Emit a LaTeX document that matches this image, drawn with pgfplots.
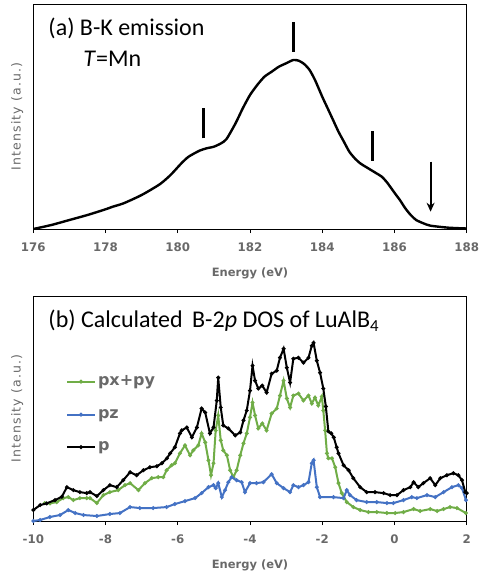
\documentclass[border=0pt]{standalone}
\usepackage{pgfplots}
\pgfplotsset{compat=1.18}
\usepackage{fontspec}
\setmainfont{Carlito}
\newfontfamily\labfont{DejaVu Sans}
\newfontfamily\labspfont[LetterSpace=9]{DejaVu Sans}
\usetikzlibrary{arrows.meta}
\definecolor{textgray}{RGB}{105,105,105}
\definecolor{cgreen}{RGB}{112,173,71}
\definecolor{cblue}{RGB}{68,114,196}
\newcommand{\tfont}{\labfont\fontsize{11.8}{11.8}\selectfont\bfseries}
\pgfplotsset{
  every tick label/.append style={font=\tfont, text=textgray},
  panel/.style={
    scale only axis, width=433.4pt, height=225pt,
    axis line style={line width=0.8pt},
    ytick=\empty,
    xtick pos=bottom, tick align=outside, major tick length=4pt,
    tick style={line width=0.8pt, black},
    xticklabel style={yshift=-6pt},
    clip mode=individual,
  }
}
\newcommand{\panellabels}{%
  \node[rotate=90, font=\labspfont\fontsize{12.5}{12.5}\selectfont, text=textgray, anchor=center] at ([xshift=-16pt]axis description cs:0,0.5) {Intensity (a.u.)};
  \node[font=\labfont\fontsize{11.5}{11.5}\selectfont\bfseries, text=textgray, anchor=center] at ([yshift=-44pt]axis description cs:0.5,0) {Energy (eV)};
}
\begin{document}
\begin{tikzpicture}
\useasboundingbox (-33.3pt,-345pt) rectangle (446.7pt,229pt);
% ---------------- panel (a)
\begin{axis}[panel, at={(0,0)}, anchor=south west,
  xmin=176, xmax=188, ymin=0, ymax=225,
  xtick={176,178,180,182,184,186,188},
  xticklabels={176,178,180,182,184,186,188}]
\addplot[black, line width=2.4pt, smooth, tension=0.4] coordinates {
(176,0)(176.5,4)(177,9)(177.5,14)(178,19.7)(178.2,22.3)(178.5,25.7)(179,34)(179.5,44.7)(179.8,54)(180.1,65.7)(180.3,72.3)(180.6,78.3)(180.8,80.7)(181,82.3)(181.2,85.7)(181.35,90)(181.6,105.7)(181.8,120.7)(182,134)(182.2,144)(182.4,152.3)(182.6,157.3)(182.8,162.3)(183.0,165.7)(183.2,169)(183.35,168.3)(183.5,165)(183.65,159)(183.8,149)(184,132.3)(184.15,120.7)(184.3,109)(184.45,97.3)(184.6,87.3)(184.75,77.3)(184.9,70.7)(185.05,65.7)(185.2,62.3)(185.35,59)(185.5,55.7)(185.65,52.3)(185.8,46.3)(186,36.3)(186.15,29)(186.3,20.7)(186.45,14)(186.6,9)(186.8,5.7)(187,3.3)(187.5,1.3)(188,0.5)
};
\draw[line width=3pt] (axis cs:180.7,90.7) -- (axis cs:180.7,120.7);
\draw[line width=3pt] (axis cs:183.2,177.3) -- (axis cs:183.2,207.3);
\draw[line width=3pt] (axis cs:185.4,68.3) -- (axis cs:185.4,98.3);
\draw[line width=2pt, -{Stealth[length=9pt,width=8pt]}] (axis cs:187.0,67.3) -- (axis cs:187.0,17.3);
\node[anchor=west, font=\fontsize{24}{24}\selectfont, inner sep=0pt] at ([xshift=15pt,yshift=-24pt]axis description cs:0,1) {(a) B-K emission};
\node[anchor=west, font=\fontsize{24}{24}\selectfont, inner sep=0pt] at ([xshift=50pt,yshift=-55pt]axis description cs:0,1) {\textit{T}=Mn};
\panellabels
\end{axis}
% ---------------- panel (b)
\begin{axis}[panel, at={(0,-292pt)}, anchor=south west,
  xmin=-10, xmax=2, ymin=0, ymax=226,
  xtick={-10,-8,-6,-4,-2,0,2},
  xticklabels={-10,-8,-6,-4,-2,0,2},
  legend style={draw=none, fill=none, at={(axis description cs:0.075,0.655)}, anchor=north west,
    font=\labfont\fontsize{16}{16}\selectfont\bfseries, text=textgray, row sep=18pt, inner sep=0pt,
    /tikz/every even column/.append style={column sep=3pt}},
  legend cell align=left,
  legend image code/.code={\draw[mark repeat=2,mark phase=2,#1] plot coordinates {(0pt,0pt)(14pt,0pt)(28pt,0pt)};},
  every axis plot/.append style={line width=2pt, mark=*, mark size=0.8pt}]
\addplot[cgreen, mark options={fill=cgreen}] coordinates {
(-9.68,18)(-9.54,17.7)(-9.35,19)(-9.17,23)(-9.03,24)(-8.89,21)(-8.71,23)(-8.52,23)(-8.43,23)(-8.24,18)(-8.06,26)(-7.88,29)(-7.65,31)(-7.46,36)(-7.32,38)(-7.09,31)(-6.91,38)(-6.72,43)(-6.54,44)(-6.40,44)(-6.31,51)(-6.17,56)(-6.08,58)(-5.94,68)(-5.80,76)(-5.66,66)(-5.57,71)(-5.43,76)(-5.34,88)(-5.24,79)(-5.15,61)(-5.08,46)(-5.01,58)(-4.95,91)(-4.88,106)(-4.81,81)(-4.74,71)(-4.64,66)(-4.55,51)(-4.46,44)(-4.37,51)(-4.27,66)(-4.18,78)(-4.09,88)(-4.00,104)(-3.93,119)(-3.86,106)(-3.77,93)(-3.66,98)(-3.54,91)(-3.40,108)(-3.26,113)(-3.17,126)(-3.07,141)(-2.98,123)(-2.89,114)(-2.80,126)(-2.66,128)(-2.52,121)(-2.38,126)(-2.29,118)(-2.20,124)(-2.11,116)(-2.01,125)(-1.97,111)(-1.92,91)(-1.87,68)(-1.83,63)(-1.73,63)(-1.64,54)(-1.55,38)(-1.46,28)(-1.32,19)(-1.14,14)(-0.95,11)(-0.72,9)(-0.49,9)(-0.21,8)(0.02,8)(0.25,9)(0.53,12)(0.71,10)(0.99,12)(1.18,10)(1.36,12)(1.54,14)(1.73,13)(1.98,8)
};
\addlegendentry{px+py}
\addplot[cblue, mark options={fill=cblue}] coordinates {
(-10,0)(-9.81,1)(-9.54,4)(-9.26,6)(-9.03,11)(-8.84,8)(-8.61,6)(-8.24,5)(-7.88,7)(-7.60,8)(-7.32,14)(-7.05,13)(-6.68,13)(-6.31,14)(-6.08,17)(-5.80,20)(-5.52,23)(-5.34,28)(-5.15,34)(-5.01,36)(-4.95,33)(-4.88,38)(-4.78,24)(-4.69,31)(-4.60,39)(-4.51,44)(-4.37,41)(-4.23,39)(-4.14,29)(-4.00,38)(-3.82,38)(-3.63,39)(-3.40,47)(-3.26,38)(-3.07,33)(-2.89,29)(-2.80,36)(-2.66,34)(-2.52,36)(-2.38,39)(-2.29,58)(-2.24,61)(-2.15,34)(-2.06,24)(-1.69,24)(-1.41,23)(-1.32,31)(-1.23,26)(-1.05,21)(-0.77,19)(-0.49,19)(-0.21,18)(-0.03,18)(0.25,21)(0.48,24)(0.62,23)(0.90,26)(1.13,24)(1.36,29)(1.59,34)(1.77,36)(1.87,33)(1.98,21)
};
\addlegendentry{pz}
\addplot[black, mark options={fill=black}] coordinates {
(-10,11)(-9.81,16)(-9.63,17.7)(-9.4,21)(-9.21,24.3)(-9.07,34)(-8.89,31)(-8.71,29)(-8.52,28)(-8.43,29)(-8.24,25)(-8.06,31)(-7.88,36)(-7.69,34)(-7.51,41)(-7.32,49)(-7.14,46)(-6.95,51)(-6.77,54)(-6.58,55)(-6.44,58)(-6.30,63)(-6.21,68)(-6.08,74)(-5.94,88)(-5.89,91)(-5.75,94)(-5.61,84)(-5.47,94)(-5.34,113)(-5.24,109)(-5.11,88)(-5.01,94)(-4.92,121)(-4.88,144)(-4.81,114)(-4.74,96)(-4.60,93)(-4.41,86)(-4.27,89)(-4.18,101)(-4.09,111)(-4.00,131)(-3.93,156)(-3.86,141)(-3.77,133)(-3.66,136)(-3.54,129)(-3.40,148)(-3.26,151)(-3.17,164)(-3.07,173)(-2.98,154)(-2.89,139)(-2.80,163)(-2.66,164)(-2.52,159)(-2.38,164)(-2.29,176)(-2.24,179)(-2.15,161)(-2.06,149)(-1.97,133)(-1.90,115)(-1.83,90)(-1.75,88)(-1.68,84)(-1.60,74)(-1.55,68)(-1.41,56)(-1.27,51)(-1.14,43)(-0.95,34)(-0.77,29)(-0.54,29)(-0.30,28)(-0.12,26)(0.07,26)(0.25,31)(0.44,34)(0.53,39)(0.66,34)(0.80,38)(0.99,43)(1.13,36)(1.27,43)(1.45,46)(1.63,48)(1.77,46)(1.87,41)(1.96,29)(2.0,28)
};
\addlegendentry{p}
\node[anchor=west, font=\fontsize{24}{24}\selectfont, inner sep=0pt] at ([xshift=15pt,yshift=-25pt]axis description cs:0,1) {(b) Calculated\, B-2\textit{p} DOS of LuAlB\textsubscript{4}};
\panellabels
\end{axis}
\end{tikzpicture}
\end{document}
